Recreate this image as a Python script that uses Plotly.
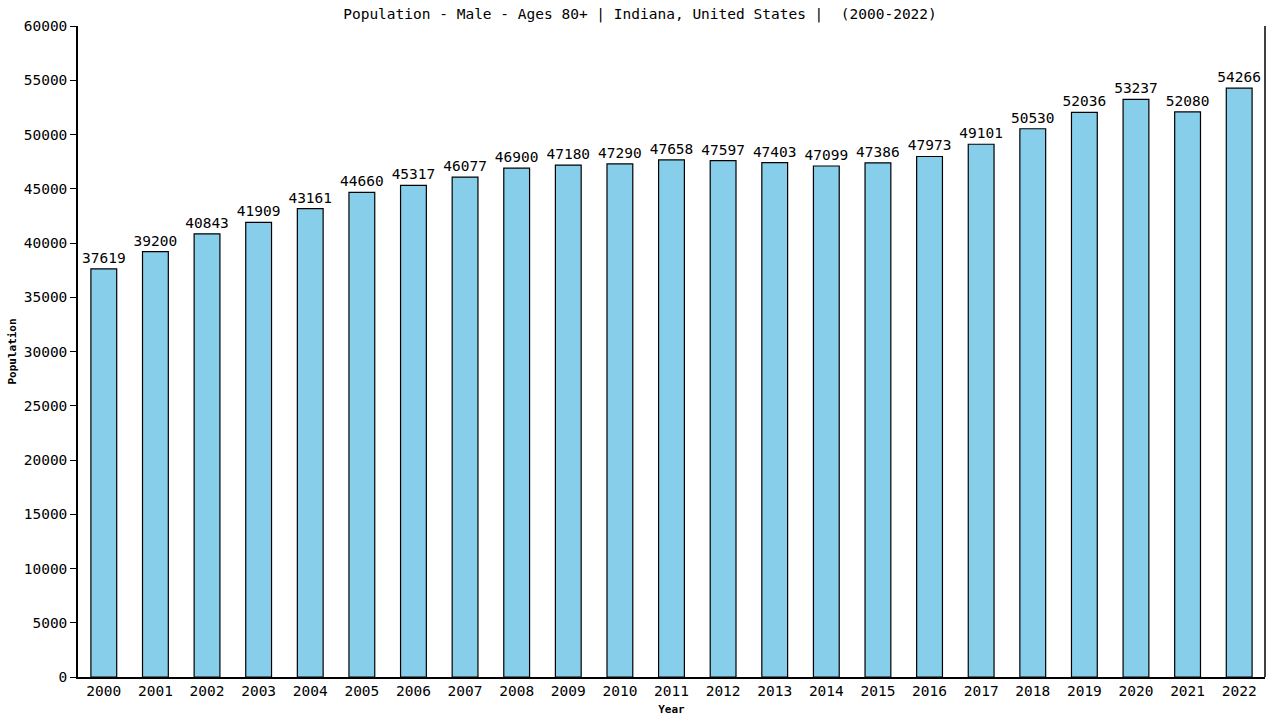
import plotly.graph_objects as go

# Indiana, male, ages 80+
years = [str(y) for y in range(2000, 2023)]
population = [
    37619, 39200, 40843, 41909, 43161, 44660, 45317, 46077, 46900, 47180,
    47290, 47658, 47597, 47403, 47099, 47386, 47973, 49101, 50530, 52036,
    53237, 52080, 54266,
]
y_ticks = list(range(0, 60001, 5000))

FONT = "DejaVu Sans Mono"

fig = go.Figure()
fig.add_trace(
    go.Bar(
        x=years,
        y=population,
        width=0.5,
        marker=dict(color="#87CEEB", line=dict(color="black", width=1.2)),
        text=[str(v) for v in population],
        textposition="outside",
        constraintext="none",
        textfont=dict(family=FONT, size=14.5, color="black"),
        cliponaxis=False,
    )
)

fig.update_layout(
    width=1280,
    height=720,
    plot_bgcolor="white",
    paper_bgcolor="white",
    showlegend=False,
    margin=dict(l=78, r=15, t=26, b=43),
    title=dict(
        text="Population - Male - Ages 80+ | Indiana, United States |  (2000-2022)",
        x=0.5, xanchor="center", y=0.988, yanchor="top",
        font=dict(family=FONT, size=14.5, color="black"),
    ),
    font=dict(family=FONT, color="black"),
)

fig.update_xaxes(
    title=dict(text="<b>Year</b>", font=dict(family=FONT, size=11), standoff=7),
    tickfont=dict(family=FONT, size=14.5),
    showline=True, linecolor="black", linewidth=1.5,
    showgrid=False, ticks="", automargin=False,
)
fig.update_yaxes(
    title=dict(text="<b>Population</b>", font=dict(family=FONT, size=11), standoff=5),
    range=[0, 60000],
    tickvals=y_ticks,
    ticktext=[str(v) for v in y_ticks],
    tickfont=dict(family=FONT, size=14.5),
    showline=True, linecolor="black", linewidth=1.5,
    ticks="outside", ticklen=6, tickcolor="black",
    showgrid=False, zeroline=False, automargin=False,
)

# right border
fig.add_shape(type="line", xref="paper", yref="paper", x0=1, x1=1, y0=0, y1=1,
              line=dict(color="black", width=1.5))

fig.write_html("out.html", config={"displayModeBar": False},
               post_script="document.body.style.margin='0';")
